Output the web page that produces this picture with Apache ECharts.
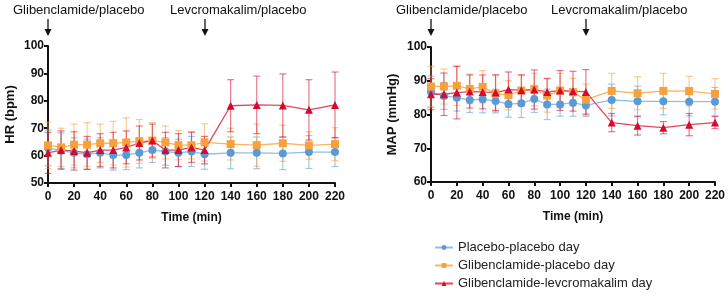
<!DOCTYPE html>
<html>
<head>
<meta charset="utf-8">
<script src="https://cdn.jsdelivr.net/npm/echarts@6/dist/echarts.min.js"></script>
<style>
  html, body { margin: 0; padding: 0; background: #fff; }
  #chart { width: 728px; height: 298px; }
</style>
</head>
<body>
<div id="chart"></div>
<script>
// time points (min)
var times = [0, 10, 20, 30, 40, 50, 60, 70, 80, 90, 100, 110, 120, 140, 160, 180, 200, 220];
var seriesNames = ['Placebo-placebo day', 'Glibenclamide-placebo day', 'Glibenclamide-levcromakalim day'];

// HR (bpm) means and SD
var hrPlacebo = [62.8, 61.8, 61, 60.5, 61, 60.2, 60.2, 61, 62, 61.5, 61, 61.5, 60.5, 61, 61, 60.8, 61.3, 61.3];
var hrPlaceboSd = [6.5, 6.5, 5.5, 5.5, 5.5, 5.5, 5.3, 5.5, 4.5, 5, 5, 5.5, 5.5, 5.8, 5.8, 5.9, 6, 5.3];
var hrGlib = [63.7, 63, 64, 64, 64.5, 64.5, 64.8, 65.2, 65.5, 64.8, 63.8, 63.8, 64.8, 64.2, 63.8, 64.5, 63.7, 64.2];
var hrGlibSd = [8.5, 7, 7.5, 8, 7, 8, 9, 8, 6.5, 6, 5.3, 5, 6.8, 5.8, 7.7, 6.6, 5, 6];
var hrLevc = [61, 62, 61.7, 61, 62, 62, 63, 64.6, 65.5, 62, 62, 63, 62, 78.2, 78.5, 78.3, 76.7, 78.5];
var hrLevcSd = [7.5, 7, 7, 6, 6, 6.5, 6, 6.2, 6, 6.5, 6, 5.5, 5, 9.5, 10.5, 11.5, 11, 12];

// MAP (mmHg) means and SD
var mapPlacebo = [86.7, 85.5, 85, 84.3, 84.5, 84, 83.1, 83.3, 84.6, 83, 83, 83.5, 82.7, 84.3, 83.9, 83.9, 83.8, 83.8];
var mapPlaceboSd = [4.7, 4, 4, 3.7, 4, 3.5, 3.9, 4.2, 4, 4.5, 3.5, 4, 3.3, 4.7, 4.5, 4, 4.2, 4.2];
var mapGlib = [88.3, 88.3, 88.5, 87.6, 88.2, 86.2, 85.7, 87.1, 87.4, 85.6, 87.1, 86.6, 84.4, 87, 86.3, 87, 86.9, 86.1];
var mapGlibSd = [6, 5.2, 5.8, 4.4, 4.8, 5.3, 4.3, 4.4, 4.8, 4.9, 5.1, 4.1, 4.6, 5.2, 4.9, 5.2, 4.4, 4.5];
var mapLevc = [86, 86, 86.5, 86.8, 86.7, 86.5, 87.4, 87.2, 87.4, 86.7, 87.1, 86.9, 86.7, 77.6, 76.7, 76.1, 77, 77.6];
var mapLevcSd = [4.6, 6.3, 7.8, 4.9, 5, 5.3, 5.2, 4.6, 5.8, 4, 5.9, 5.9, 6.6, 2.7, 2.8, 1.8, 3.3, 1.8];

var colors = ['#5b9bd5', '#f7a13c', '#d7092f'];
var lineColors = ['#93bde6', '#fab466', '#e0475f'];
var symbols = ['circle', 'rect', 'triangle'];
var symbolSizes = [8, 8, 8];
var font = 'Liberation Sans, Arial, sans-serif';

var chart = echarts.init(document.getElementById('chart'));

function pairs(vals) {
  return times.map(function (t, i) { return [t, vals[i]]; });
}

function errData(vals, sd) {
  return times.map(function (t, i) { return [t, vals[i] - sd[i], vals[i] + sd[i]]; });
}

function errorBar(idx, k, vals, sd) {
  return {
    name: seriesNames[k] + ' SD',
    type: 'custom',
    xAxisIndex: idx,
    yAxisIndex: idx,
    z: 1,
    silent: true,
    data: errData(vals, sd),
    encode: { x: 0, y: [1, 2] },
    renderItem: function (params, api) {
      var lo = api.coord([api.value(0), api.value(1)]);
      var hi = api.coord([api.value(0), api.value(2)]);
      var w = 3.5;
      var style = { stroke: colors[k], lineWidth: 1.2, opacity: 0.55 };
      return {
        type: 'group',
        children: [
          { type: 'line', shape: { x1: lo[0], y1: lo[1], x2: hi[0], y2: hi[1] }, style: style },
          { type: 'line', shape: { x1: lo[0] - w, y1: lo[1], x2: lo[0] + w, y2: lo[1] }, style: style },
          { type: 'line', shape: { x1: hi[0] - w, y1: hi[1], x2: hi[0] + w, y2: hi[1] }, style: style }
        ]
      };
    }
  };
}

function lineSeries(idx, k, vals) {
  return {
    name: seriesNames[k],
    type: 'line',
    xAxisIndex: idx,
    yAxisIndex: idx,
    z: 3,
    data: pairs(vals),
    symbol: symbols[k],
    symbolSize: symbolSizes[k],
    itemStyle: { color: colors[k] },
    lineStyle: { color: lineColors[k], width: 1.3 },
    animation: false
  };
}

function xAxis(idx) {
  return {
    type: 'value',
    gridIndex: idx,
    min: 0,
    max: 220,
    interval: 20,
    name: 'Time (min)',
    nameLocation: 'middle',
    nameGap: 29,
    nameTextStyle: { fontFamily: font, fontWeight: 'bold', fontSize: 12, color: '#111' },
    axisLine: { onZero: false, lineStyle: { color: '#111', width: 2 } },
    axisTick: { length: 4, lineStyle: { color: '#111', width: 2 } },
    axisLabel: { fontFamily: font, fontWeight: 'bold', fontSize: 12, color: '#111', margin: 8 },
    splitLine: { show: false }
  };
}

function yAxis(idx, min, name, gap) {
  return {
    type: 'value',
    gridIndex: idx,
    min: min,
    max: 100,
    interval: 10,
    name: name,
    nameLocation: 'middle',
    nameGap: gap,
    nameTextStyle: { fontFamily: font, fontWeight: 'bold', fontSize: 13, color: '#111' },
    axisLine: { show: true, onZero: false, lineStyle: { color: '#111', width: 2 } },
    axisTick: { show: true, length: 4, lineStyle: { color: '#111', width: 2 } },
    axisLabel: { fontFamily: font, fontWeight: 'bold', fontSize: 12, color: '#111', margin: 4 },
    splitLine: { show: false }
  };
}

var series = [];
[[hrPlacebo, hrPlaceboSd], [hrGlib, hrGlibSd], [hrLevc, hrLevcSd]].forEach(function (d, k) {
  series.push(errorBar(0, k, d[0], d[1]));
});
[[mapPlacebo, mapPlaceboSd], [mapGlib, mapGlibSd], [mapLevc, mapLevcSd]].forEach(function (d, k) {
  series.push(errorBar(1, k, d[0], d[1]));
});
[hrPlacebo, hrGlib, hrLevc].forEach(function (v, k) { series.push(lineSeries(0, k, v)); });
[mapPlacebo, mapGlib, mapLevc].forEach(function (v, k) { series.push(lineSeries(1, k, v)); });

chart.setOption({
  animation: false,
  grid: [
    { left: 48, top: 46, width: 287, height: 137 },
    { left: 431, top: 47, width: 285, height: 135 }
  ],
  xAxis: [xAxis(0), xAxis(1)],
  yAxis: [yAxis(0, 50, 'HR (bpm)', 31), yAxis(1, 60, 'MAP (mmHg)', 32)],
  legend: {
    data: seriesNames,
    orient: 'vertical',
    left: 429,
    top: 236,
    itemGap: 5,
    itemWidth: 18,
    itemHeight: 6,
    textStyle: { fontFamily: font, fontSize: 13, color: '#222' }
  },
  series: series
});

// dosing annotations: arrows at 0 and 120 min above each panel
var notes = [
  { grid: 0, t: 0, text: 'Glibenclamide/placebo' },
  { grid: 0, t: 120, text: 'Levcromakalim/placebo' },
  { grid: 1, t: 0, text: 'Glibenclamide/placebo' },
  { grid: 1, t: 120, text: 'Levcromakalim/placebo' }
];
var graphics = [];
notes.forEach(function (n) {
  var x = Math.round(chart.convertToPixel({ gridIndex: n.grid }, [n.t, 100])[0]);
  graphics.push({
    type: 'text', left: x - 35, top: 4,
    style: { text: n.text, fontFamily: font, fontSize: 13, fill: '#111' }
  });
  graphics.push({
    type: 'line', shape: { x1: x, y1: 19, x2: x, y2: 31 },
    style: { stroke: '#111', lineWidth: 1.3 }
  });
  graphics.push({
    type: 'polygon', shape: { points: [[x - 3.5, 29], [x + 3.5, 29], [x, 36]] },
    style: { fill: '#111' }
  });
});
chart.setOption({ graphic: graphics });
</script>
</body>
</html>
